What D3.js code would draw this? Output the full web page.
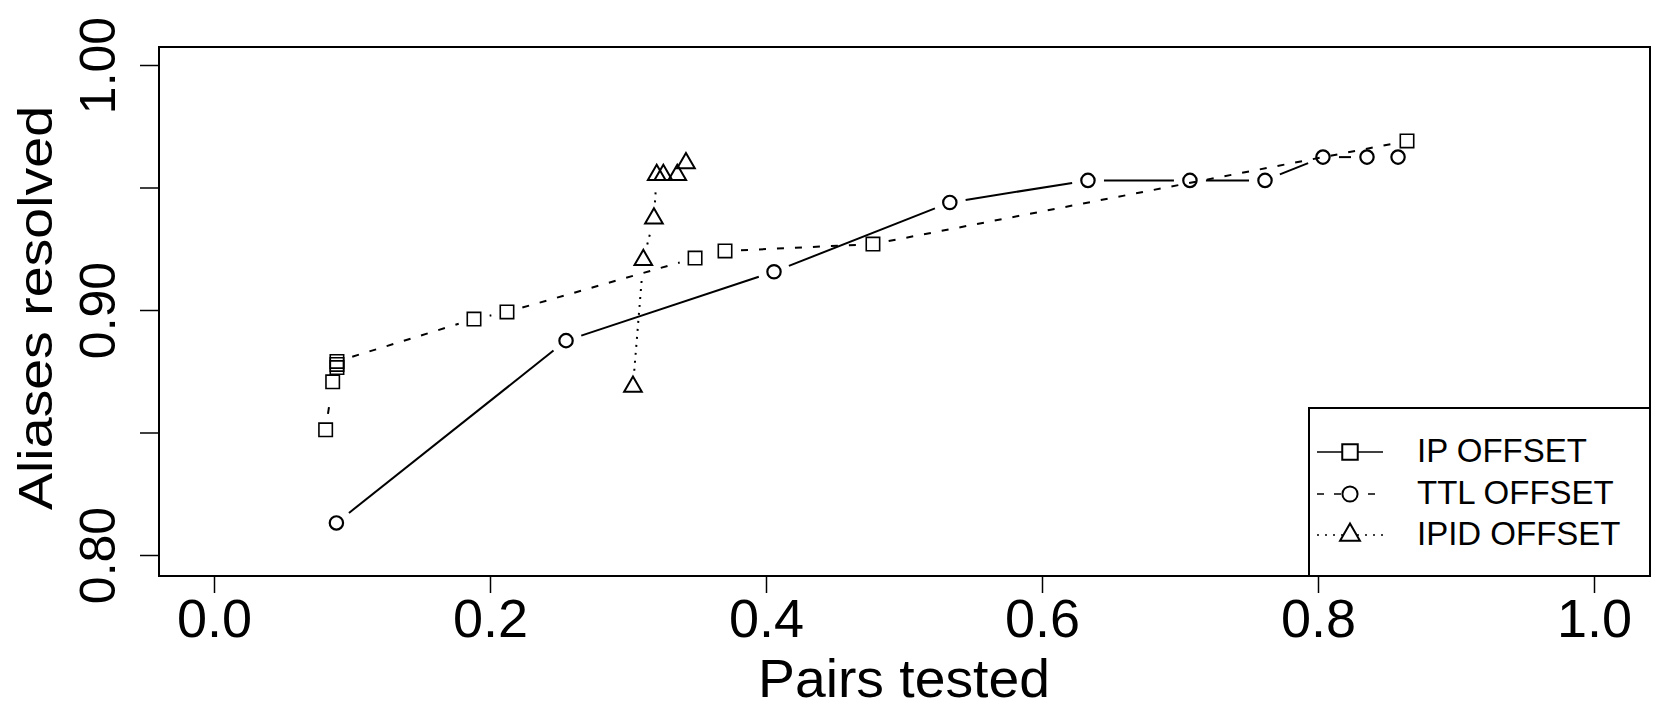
<!DOCTYPE html>
<html>
<head>
<meta charset="utf-8">
<script src="https://cdn.jsdelivr.net/npm/d3@7"></script>
<style>
body { margin: 0; background: #fff; }
text { font-family: "Liberation Sans", Arial, sans-serif; fill: #000; }
</style>
</head>
<body>
<div id="chart-area"></div>
<script>
/*
*    aliases resolved vs pairs tested
*/

// squares (dashed line)
const squareX = [0.0809, 0.0860, 0.0891, 0.0891, 0.0891, 0.1884, 0.2123, 0.3486, 0.3703, 0.4775, 0.8645];
const squareY = [0.8511, 0.8707, 0.8765, 0.8778, 0.8790, 0.8963, 0.8992, 0.9212, 0.9241, 0.9269, 0.9690];

// circles (solid line)
const circleX = [0.0887, 0.2551, 0.4058, 0.5332, 0.6333, 0.7072, 0.7616, 0.8036, 0.8355, 0.8580];
const circleY = [0.8131, 0.8875, 0.9156, 0.9439, 0.9529, 0.9529, 0.9529, 0.9624, 0.9624, 0.9624];

// triangles (dotted line)
const triangleX = [0.3036, 0.3111, 0.3188, 0.3208, 0.3256, 0.3357, 0.3420];
const triangleY = [0.8687, 0.9204, 0.9374, 0.9551, 0.9551, 0.9551, 0.9599];

const xTicks = [0, 0.2, 0.4, 0.6, 0.8, 1.0];
const xTickLabels = ["0.0", "0.2", "0.4", "0.6", "0.8", "1.0"];
const yTicks = [0.80, 0.85, 0.90, 0.95, 1.00];
const yTickLabels = ["0.80", "", "0.90", "", "1.00"];
const legendLabels = ["IP OFFSET", "TTL OFFSET", "IPID OFFSET"];

const width = 1653;
const height = 709;
const box = {left: 159, top: 47, right: 1650, bottom: 576};

const svg = d3.select("#chart-area")
    .append("svg")
    .attr("width", width)
    .attr("height", height);

svg.append("rect")
    .attr("width", "100%")
    .attr("height", "100%")
    .attr("fill", "white");

const x = d3.scaleLinear().domain([0, 1]).range([214, 1594]);
const y = d3.scaleLinear().domain([0.8, 1.0]).range([555, 65]);

// frame
svg.append("rect")
    .attr("x", box.left)
    .attr("y", box.top)
    .attr("width", box.right - box.left)
    .attr("height", box.bottom - box.top)
    .attr("fill", "none")
    .attr("stroke", "black")
    .attr("stroke-width", 2);

// axes
const leftAxis = d3.axisLeft(y)
    .tickValues(yTicks)
    .tickSize(19)
    .tickSizeOuter(0)
    .tickFormat((d, i) => yTickLabels[i]);

const gy = svg.append("g")
    .attr("transform", "translate(" + box.left + ",0)")
    .call(leftAxis)
    .attr("font-size", null)
    .attr("font-family", null);
gy.select(".domain").remove();
gy.selectAll(".tick line").attr("stroke-width", 1.5);
gy.selectAll(".tick text")
    .attr("x", null)
    .attr("dy", null)
    .attr("text-anchor", "middle")
    .attr("font-size", 50)
    .attr("transform", "translate(-44,0) rotate(-90)");

const bottomAxis = d3.axisBottom(x)
    .tickValues(xTicks)
    .tickSize(17)
    .tickSizeOuter(0)
    .tickPadding(6)
    .tickFormat((d, i) => xTickLabels[i]);

const gx = svg.append("g")
    .attr("transform", "translate(0," + box.bottom + ")")
    .call(bottomAxis)
    .attr("font-size", null)
    .attr("font-family", null);
gx.select(".domain").remove();
gx.selectAll(".tick line").attr("stroke-width", 1.5);
gx.selectAll(".tick text").attr("font-size", 54);

// axis titles
svg.append("text")
    .attr("x", 904)
    .attr("y", 697)
    .attr("font-size", 53)
    .attr("text-anchor", "middle")
    .attr("textLength", 292)
    .attr("lengthAdjust", "spacingAndGlyphs")
    .text("Pairs tested");

svg.append("text")
    .attr("transform", "translate(52,308) rotate(-90)")
    .attr("font-size", 48)
    .attr("text-anchor", "middle")
    .attr("textLength", 404)
    .attr("lengthAdjust", "spacingAndGlyphs")
    .text("Aliases resolved");

// lines with gaps round the points, like R type="b"
function gapSegments(xs, ys, gap) {
    const segs = [];
    for (let i = 1; i < xs.length; i++) {
        const x1 = x(xs[i - 1]), y1 = y(ys[i - 1]);
        const x2 = x(xs[i]), y2 = y(ys[i]);
        const d = Math.hypot(x2 - x1, y2 - y1);
        if (d <= 2 * gap) continue;
        const ux = (x2 - x1) / d, uy = (y2 - y1) / d;
        segs.push([x1 + ux * gap, y1 + uy * gap, x2 - ux * gap, y2 - uy * gap]);
    }
    return segs;
}

const series = [
    {xs: squareX, ys: squareY, symbol: d3.symbolSquare, size: 180, dash: "7,11", sw: 1.6},
    {xs: circleX, ys: circleY, symbol: d3.symbolCircle, size: 140, dash: null, sw: 2.2},
    {xs: triangleX, ys: triangleY, symbol: d3.symbolTriangle, size: 135, dash: "2,6", sw: 2}
];

series.forEach(s => {
    svg.append("g")
        .selectAll("line")
        .data(gapSegments(s.xs, s.ys, 16))
        .enter()
        .append("line")
            .attr("x1", d => d[0])
            .attr("y1", d => d[1])
            .attr("x2", d => d[2])
            .attr("y2", d => d[3])
            .attr("stroke", "black")
            .attr("stroke-width", 2)
            .attr("stroke-dasharray", s.dash);

    svg.append("g")
        .selectAll("path")
        .data(s.xs.map((v, i) => [v, s.ys[i]]))
        .enter()
        .append("path")
            .attr("d", d3.symbol().type(s.symbol).size(s.size))
            .attr("transform", d => "translate(" + x(d[0]) + "," + y(d[1]) + ")")
            .attr("fill", "none")
            .attr("stroke", "black")
            .attr("stroke-width", s.sw);
});

// legend
const legend = svg.append("g");
legend.append("rect")
    .attr("x", 1309)
    .attr("y", 408)
    .attr("width", box.right - 1309)
    .attr("height", box.bottom - 408)
    .attr("fill", "white")
    .attr("stroke", "black")
    .attr("stroke-width", 2);

const legendKeys = [
    {symbol: d3.symbolSquare, size: 240, dash: null},
    {symbol: d3.symbolCircle, size: 180, dash: "7,10"},
    {symbol: d3.symbolTriangle, size: 170, dash: "2,6"}
];
const rowY = [452, 494, 535];

legendLabels.forEach((label, i) => {
    const row = legend.append("g").attr("transform", "translate(0," + rowY[i] + ")");
    row.append("line")
        .attr("x1", 1317)
        .attr("x2", 1383)
        .attr("stroke", "black")
        .attr("stroke-width", 1.5)
        .attr("stroke-dasharray", legendKeys[i].dash);
    row.append("path")
        .attr("d", d3.symbol().type(legendKeys[i].symbol).size(legendKeys[i].size))
        .attr("transform", "translate(1350,0)")
        .attr("fill", "white")
        .attr("stroke", "black")
        .attr("stroke-width", 2);
    row.append("text")
        .attr("x", 1417)
        .attr("y", 10)
        .attr("font-size", 33)
        .text(label);
});
</script>
</body>
</html>
